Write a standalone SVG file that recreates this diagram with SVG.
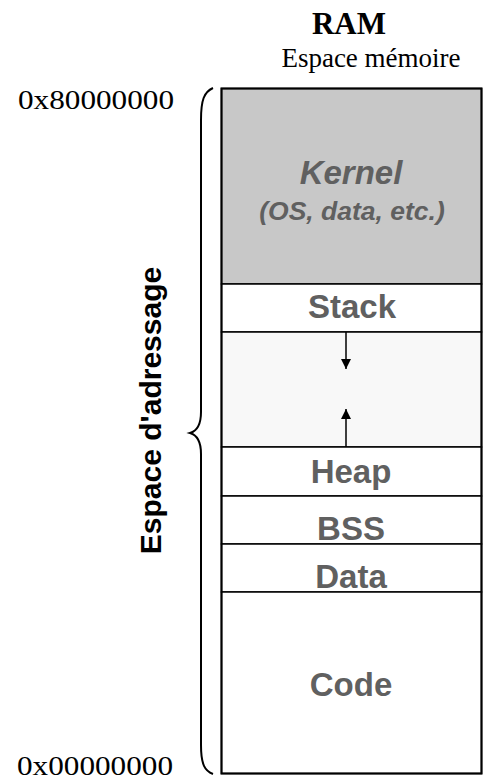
<svg xmlns="http://www.w3.org/2000/svg" width="485" height="780" viewBox="0 0 485 780">
<style>
.seg{stroke:#000;stroke-width:1.5}
.lbl{font-family:"Liberation Sans",Arial,sans-serif;font-weight:bold;font-size:33px;fill:#606060;text-anchor:middle}
.sub{font-size:26.5px;font-style:italic}
.ser{font-family:"Liberation Serif","Times New Roman",serif;fill:#000}
.arr{stroke:#000;stroke-width:1.5;fill:none}
</style>
<defs>
<marker id="ah" viewBox="0 0 10 10" refX="10" refY="5" markerWidth="10" markerHeight="11" markerUnits="userSpaceOnUse" orient="auto">
<path d="M0,0 L10,5 L0,10 z" fill="#000"/>
</marker>
</defs>
<rect width="485" height="780" fill="#fff"/>
<g id="title">
<text class="ser" x="349" y="34" font-size="31" font-weight="bold" text-anchor="middle">RAM</text>
<text class="ser" x="371" y="67" font-size="27" text-anchor="middle">Espace mémoire</text>
</g>
<g id="addr-high"><text class="ser" x="18" y="109" font-size="28" textLength="156" lengthAdjust="spacingAndGlyphs">0x80000000</text></g>
<g id="addr-low"><text class="ser" x="17" y="775" font-size="28" textLength="156" lengthAdjust="spacingAndGlyphs">0x00000000</text></g>
<g id="kernel">
<rect class="seg" x="221.5" y="88.5" width="260" height="195.5" fill="#c8c8c8"/>
<text class="lbl" x="351" y="184" font-style="italic">Kernel</text>
<text class="lbl sub" x="352" y="220">(OS, data, etc.)</text>
</g>
<g id="stack">
<rect class="seg" x="221.5" y="284" width="260" height="48" fill="#fff"/>
<text class="lbl" x="352" y="318">Stack</text>
</g>
<g id="free">
<rect class="seg" x="221.5" y="332" width="260" height="115" fill="#f8f8f8"/>
</g>
<g id="heap">
<rect class="seg" x="221.5" y="447" width="260" height="49" fill="#fff"/>
<text class="lbl" x="351" y="483">Heap</text>
</g>
<g id="bss">
<rect class="seg" x="221.5" y="496" width="260" height="48" fill="#fff"/>
<text class="lbl" x="351" y="540">BSS</text>
</g>
<g id="data">
<rect class="seg" x="221.5" y="544" width="260" height="48" fill="#fff"/>
<text class="lbl" x="351" y="588">Data</text>
</g>
<g id="code">
<rect class="seg" x="221.5" y="592" width="260" height="181.5" fill="#fff"/>
<text class="lbl" x="351" y="696">Code</text>
</g>
<g id="outline"><rect x="221.5" y="88.5" width="260" height="685" fill="none" stroke="#000" stroke-width="2"/></g>
<g id="brace">
<path d="M213,88 C204,92 201,100 201,120 L201,412 C201,425 197,431 190,433 C197,435 201,441 201,454 L201,745 C201,765 205,771 213,774" fill="none" stroke="#000" stroke-width="2"/>
<text transform="translate(161,410.5) rotate(-90)" font-family="'Liberation Sans',Arial,sans-serif" font-weight="bold" font-size="30" text-anchor="middle" fill="#000">Espace d'adressage</text>
</g>
<g id="connectors">
<line class="arr" x1="346" y1="332" x2="346" y2="369" marker-end="url(#ah)"/>
<line class="arr" x1="346" y1="447" x2="346" y2="409" marker-end="url(#ah)"/>
</g>
</svg>
